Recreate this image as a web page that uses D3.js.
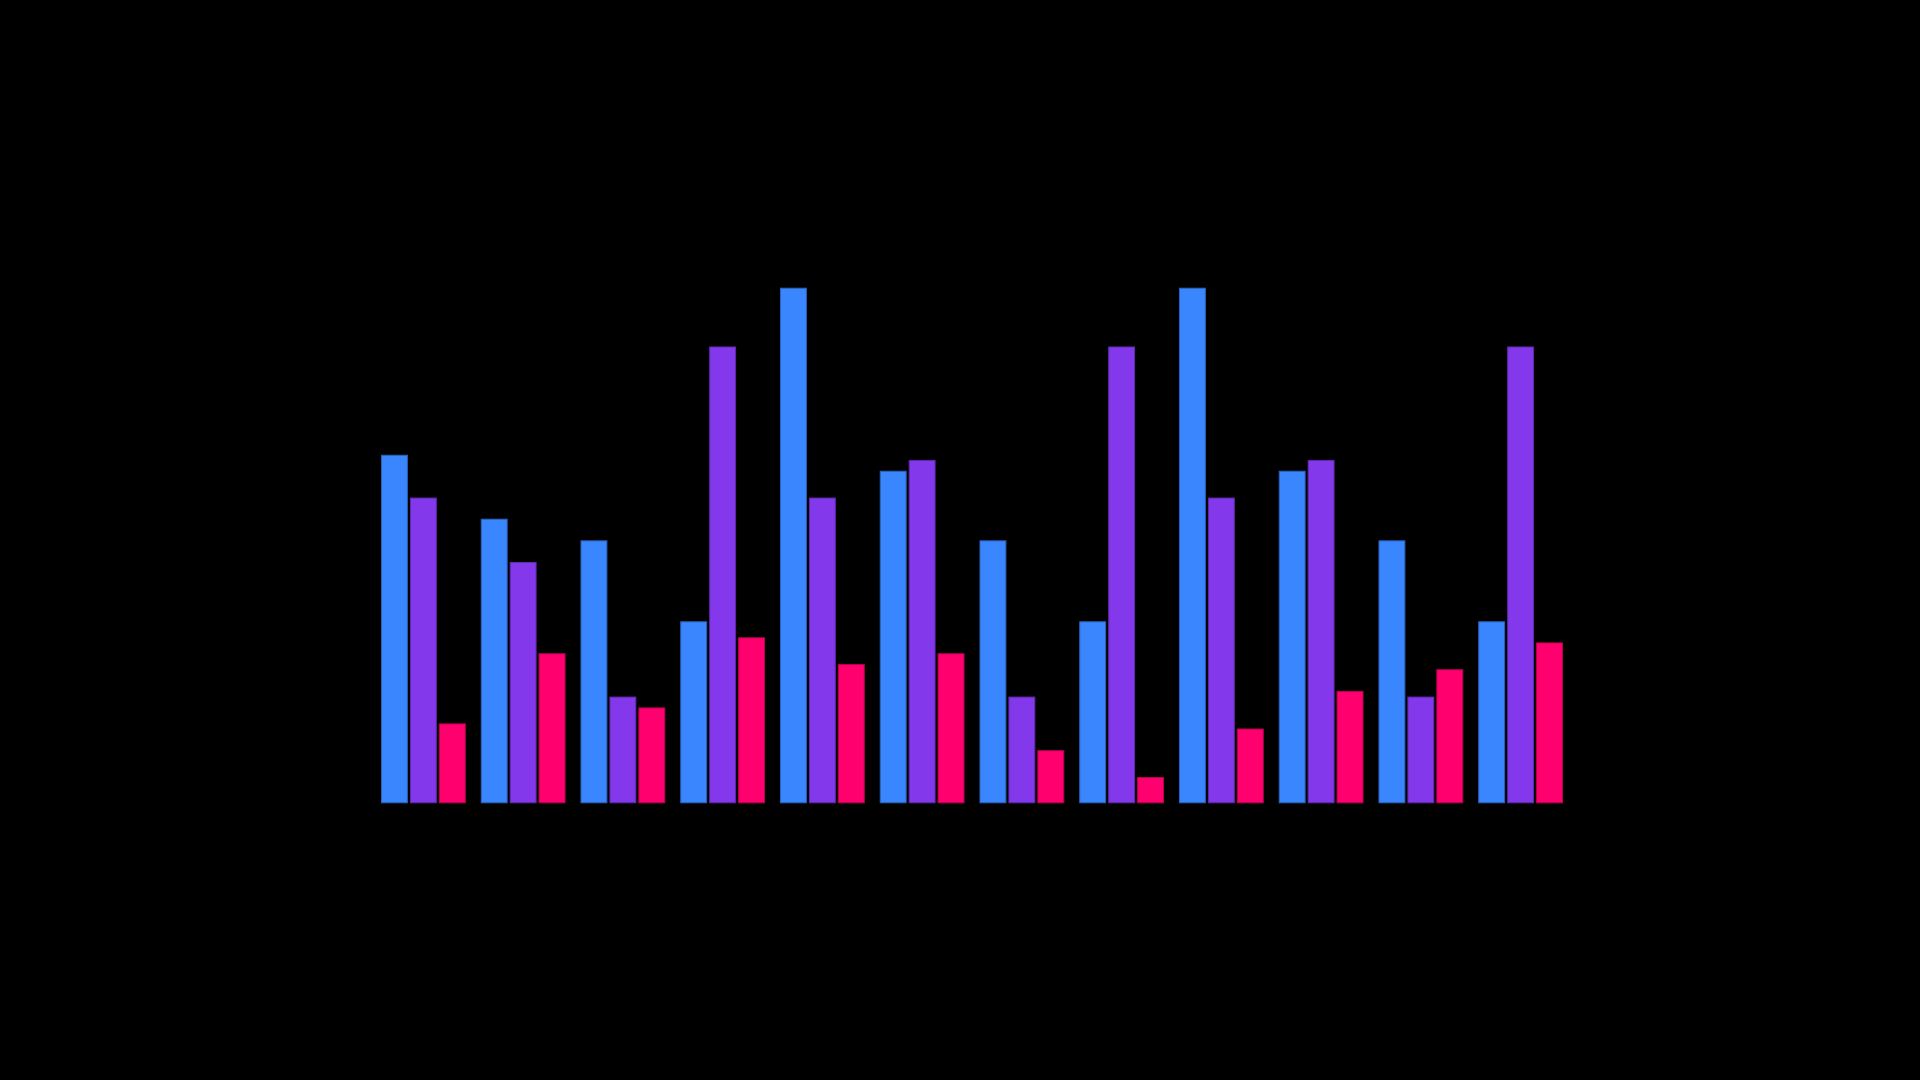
<!DOCTYPE html>
<html>
<head>
<meta charset="utf-8">
<script src="https://cdn.jsdelivr.net/npm/d3@7"></script>
<style>
  html, body { margin: 0; padding: 0; background: #000; }
  svg { display: block; }
</style>
</head>
<body>
<svg width="1920" height="1080"></svg>
<script>
var groups = ['1', '2', '3', '4', '5', '6', '7', '8', '9', '10', '11', '12']
var seriesNames = ['a', 'b', 'c']
var seriesA = [67.6, 55.2, 51.0, 35.3, 100, 64.5, 51.0, 35.3, 100, 64.5, 51.0, 35.3]
var seriesB = [59.3, 46.8, 20.7, 88.6, 59.3, 66.6, 20.7, 88.6, 59.3, 66.6, 20.7, 88.6]
var seriesC = [15.5, 29.1, 18.6, 32.2, 27.0, 29.1, 10.3, 5.1, 14.5, 21.8, 26.0, 31.2]
var colors = ['#3a86ff', '#8338ec', '#ff006e']

var chart = () => {
  var svg = d3.select('svg')
  var series = [seriesA, seriesB, seriesC]

  var rows = groups.map((g, i) => ({
    group: g,
    values: seriesNames.map((s, j) => ({ key: s, value: series[j][i], color: colors[j] }))
  }))

  var x0 = d3.scaleBand()
    .domain(groups)
    .range([381, 1563])
    .paddingInner(0.15)
    .paddingOuter(0)

  var x1 = d3.scaleBand()
    .domain(seriesNames)
    .range([0, x0.bandwidth()])
    .paddingInner(0.07)

  var y = d3.scaleLinear()
    .domain([0, 100])
    .range([803.3, 287.7])

  svg.append('rect')
    .attr('width', 1920).attr('height', 1080).attr('fill', '#000')

  svg.append('g')
    .selectAll('g').data(rows).enter().append('g')
    .attr('transform', d => 'translate(' + x0(d.group) + ',0)')
    .selectAll('rect').data(d => d.values).enter().append('rect')
    .attr('x', d => x1(d.key) + 0.5)
    .attr('y', d => y(d.value) + 0.5)
    .attr('width', x1.bandwidth() - 1)
    .attr('height', d => y(0) - y(d.value) - 1)
    .attr('fill', d => d.color)
    .attr('stroke', d => d3.color(d.color).darker(0.9))
    .attr('stroke-width', 1)
}

chart()
</script>
</body>
</html>
